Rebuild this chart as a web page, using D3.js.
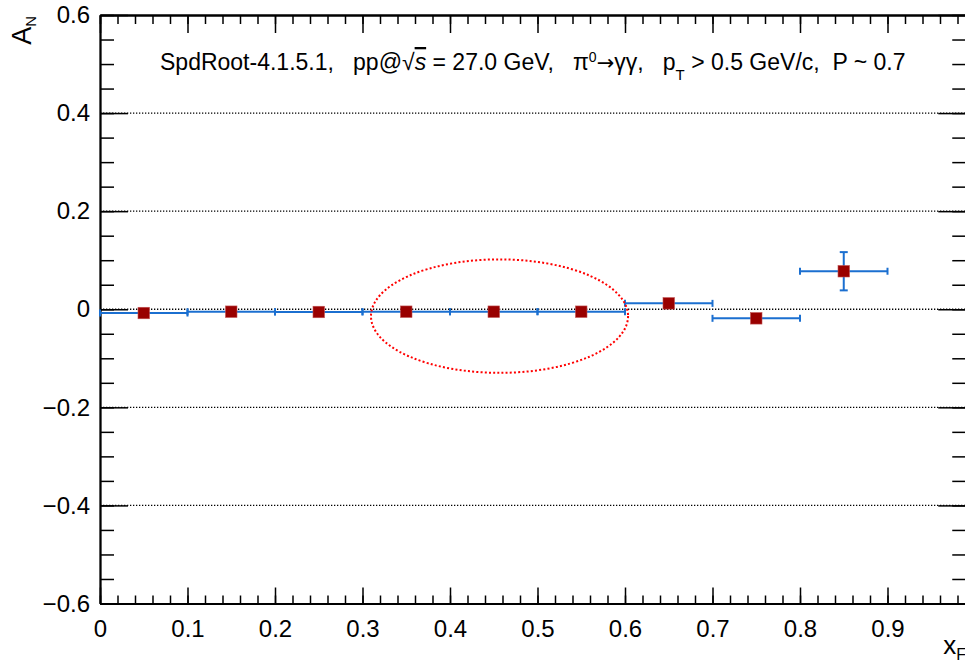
<!DOCTYPE html>
<html>
<head>
<meta charset="utf-8">
<script src="https://cdn.jsdelivr.net/npm/d3@7"></script>
<style>
  body { margin: 0; background: #fff; }
  svg { display: block; font-family: "Liberation Sans", Arial, Helvetica, sans-serif; }
</style>
</head>
<body>
<svg id="chart" width="965" height="662"></svg>
<script>
// Single-spin asymmetry A_N versus x_F, bins of width 0.1
const binCenters   = [0.05, 0.15, 0.25, 0.35, 0.45, 0.55, 0.65, 0.75, 0.85];
const binHalfWidth = [0.05, 0.05, 0.05, 0.05, 0.05, 0.05, 0.05, 0.05, 0.05];
const asymmetry    = [-0.0077, -0.005, -0.0056, -0.005, -0.005, -0.005, 0.012, -0.0185, 0.0775];
const asymError    = [0.003, 0.003, 0.003, 0.003, 0.003, 0.003, 0.004, 0.006, 0.039];

const xMajorTicks = [0, 0.1, 0.2, 0.3, 0.4, 0.5, 0.6, 0.7, 0.8, 0.9];
const xMinorTicks = d3.range(0, 50).map(i => +(i * 0.02).toFixed(2)).filter(v => v <= 0.99);
const yMajorTicks = [-0.6, -0.4, -0.2, 0, 0.2, 0.4, 0.6];
const yMinorTicks = d3.range(-12, 13).map(i => +(i * 0.05).toFixed(2));
const gridLevels  = [-0.4, -0.2, 0, 0.2, 0.4];

// highlighted region (data units): centre and half-axes
const regionCenter = [0.4566, -0.014];
const regionRadii  = [0.1469, 0.1157];

const svg = d3.select("#chart");
const frame = { left: 100, right: 966.25, top: 15, bottom: 603.5 };

const x = d3.scaleLinear().domain([0, 0.99]).range([frame.left, frame.right]);
const y = d3.scaleLinear().domain([-0.6, 0.6]).range([frame.bottom, frame.top]);

const fmt = d => (d === 0 ? "0" : d3.format(".1f")(d));

// dotted horizontal grid
svg.append("g").selectAll("line").data(gridLevels).join("line")
  .attr("x1", frame.left).attr("x2", frame.right)
  .attr("y1", d => y(d)).attr("y2", d => y(d))
  .attr("stroke", "#000").attr("stroke-width", 1.3)
  .attr("stroke-dasharray", "1.3,1.7");

function styleAxis(g) {
  g.select(".domain").attr("stroke", "#000").attr("stroke-width", 1.8);
  g.selectAll(".tick line").attr("stroke", "#000").attr("stroke-width", 1.5);
  g.selectAll(".tick text").attr("fill", "#000").style("font-size", "24px")
    .style("font-family", '"Liberation Sans", Arial, sans-serif');
}

// left axis
svg.append("g").attr("transform", `translate(${frame.left},0)`)
  .call(d3.axisLeft(y).tickValues(yMinorTicks).tickSizeInner(-14).tickSizeOuter(0).tickFormat(""))
  .call(styleAxis);
svg.append("g").attr("transform", `translate(${frame.left},0)`)
  .call(d3.axisLeft(y).tickValues(yMajorTicks).tickSizeInner(-28).tickSizeOuter(0).tickPadding(10).tickFormat(fmt))
  .call(styleAxis);

// right axis (mirror ticks)
svg.append("g").attr("transform", `translate(${frame.right},0)`)
  .call(d3.axisRight(y).tickValues(yMinorTicks).tickSizeInner(-14).tickSizeOuter(0).tickFormat(""))
  .call(styleAxis);
svg.append("g").attr("transform", `translate(${frame.right},0)`)
  .call(d3.axisRight(y).tickValues(yMajorTicks).tickSizeInner(-28).tickSizeOuter(0).tickFormat(""))
  .call(styleAxis);

// bottom axis
svg.append("g").attr("transform", `translate(0,${frame.bottom})`)
  .call(d3.axisBottom(x).tickValues(xMinorTicks).tickSizeInner(-8).tickSizeOuter(0).tickFormat(""))
  .call(styleAxis);
svg.append("g").attr("transform", `translate(0,${frame.bottom})`)
  .call(d3.axisBottom(x).tickValues(xMajorTicks).tickSizeInner(-16).tickSizeOuter(0).tickPadding(16).tickFormat(fmt))
  .call(styleAxis);

// top axis (mirror ticks)
svg.append("g").attr("transform", `translate(0,${frame.top})`)
  .call(d3.axisTop(x).tickValues(xMinorTicks).tickSizeInner(-9).tickSizeOuter(0).tickFormat(""))
  .call(styleAxis);
svg.append("g").attr("transform", `translate(0,${frame.top})`)
  .call(d3.axisTop(x).tickValues(xMajorTicks).tickSizeInner(-18).tickSizeOuter(0).tickFormat(""))
  .call(styleAxis);

// data points with error bars
const points = binCenters.map((c, i) => ({ c, hw: binHalfWidth[i], v: asymmetry[i], e: asymError[i] }));
const errColor = "#1b6fd0";
const eb = svg.append("g").attr("stroke", errColor).attr("stroke-width", 2).attr("fill", "none");
const capX = 3.5, capY = 4;
points.forEach(p => {
  const cx = x(p.c), cy = y(p.v);
  const xl = x(p.c - p.hw), xr = x(p.c + p.hw);
  eb.append("line").attr("x1", xl).attr("x2", xr).attr("y1", cy).attr("y2", cy);
  eb.append("line").attr("x1", xl).attr("x2", xl).attr("y1", cy - capX).attr("y2", cy + capX);
  eb.append("line").attr("x1", xr).attr("x2", xr).attr("y1", cy - capX).attr("y2", cy + capX);
  const yTop = y(p.v + p.e), yBot = y(p.v - p.e);
  eb.append("line").attr("x1", cx).attr("x2", cx).attr("y1", yTop).attr("y2", yBot);
  if (yBot - yTop > 12) {
    eb.append("line").attr("x1", cx - capY).attr("x2", cx + capY).attr("y1", yTop).attr("y2", yTop);
    eb.append("line").attr("x1", cx - capY).attr("x2", cx + capY).attr("y1", yBot).attr("y2", yBot);
  }
});

const ms = 11.5;
svg.append("g").selectAll("rect").data(points).join("rect")
  .attr("x", d => x(d.c) - ms / 2).attr("y", d => y(d.v) - ms / 2)
  .attr("width", ms).attr("height", ms)
  .attr("fill", "#990000").attr("stroke", "#c05050").attr("stroke-width", 0.6);

// highlighted region ellipse
svg.append("ellipse")
  .attr("cx", x(regionCenter[0])).attr("cy", y(regionCenter[1]))
  .attr("rx", x(regionRadii[0]) - x(0)).attr("ry", y(0) - y(regionRadii[1]))
  .attr("fill", "none").attr("stroke", "#ff0000").attr("stroke-width", 2)
  .attr("stroke-dasharray", "2,2.2");

// header text
const title = svg.append("text").attr("x", 160).attr("y", 70)
  .style("font-size", "23px").style("white-space", "pre").attr("fill", "#000");
title.append("tspan").text("SpdRoot-4.1.5.1,   pp@");
title.append("tspan").text("\u221A");
title.append("tspan").style("font-style", "italic").style("text-decoration", "overline").text("s");
title.append("tspan").text(" = 27.0 GeV,   \u03C0");
title.append("tspan").attr("dy", -8).style("font-size", "14px").text("0");
title.append("tspan").attr("dy", 8).style("font-family", '"DejaVu Sans", sans-serif').style("font-size", "21px").text("\u2192");
title.append("tspan").text("\u03B3\u03B3,   p");
title.append("tspan").attr("dy", 10).style("font-size", "15px").text("T");
title.append("tspan").attr("dy", -10).text(" > 0.5 GeV/c,  P ~ 0.7");

// axis titles
const yTitle = svg.append("text").attr("transform", "translate(31,16) rotate(-90)")
  .attr("text-anchor", "end").style("font-size", "27px").attr("fill", "#000");
yTitle.append("tspan").text("A");
yTitle.append("tspan").attr("dy", 5).style("font-size", "15px").text("N");

const xTitle = svg.append("text").attr("x", 966).attr("y", 654)
  .attr("text-anchor", "end").style("font-size", "26px").attr("fill", "#000");
xTitle.append("tspan").text("x");
xTitle.append("tspan").attr("dy", 6).style("font-size", "16px").text("F");
</script>
</body>
</html>
